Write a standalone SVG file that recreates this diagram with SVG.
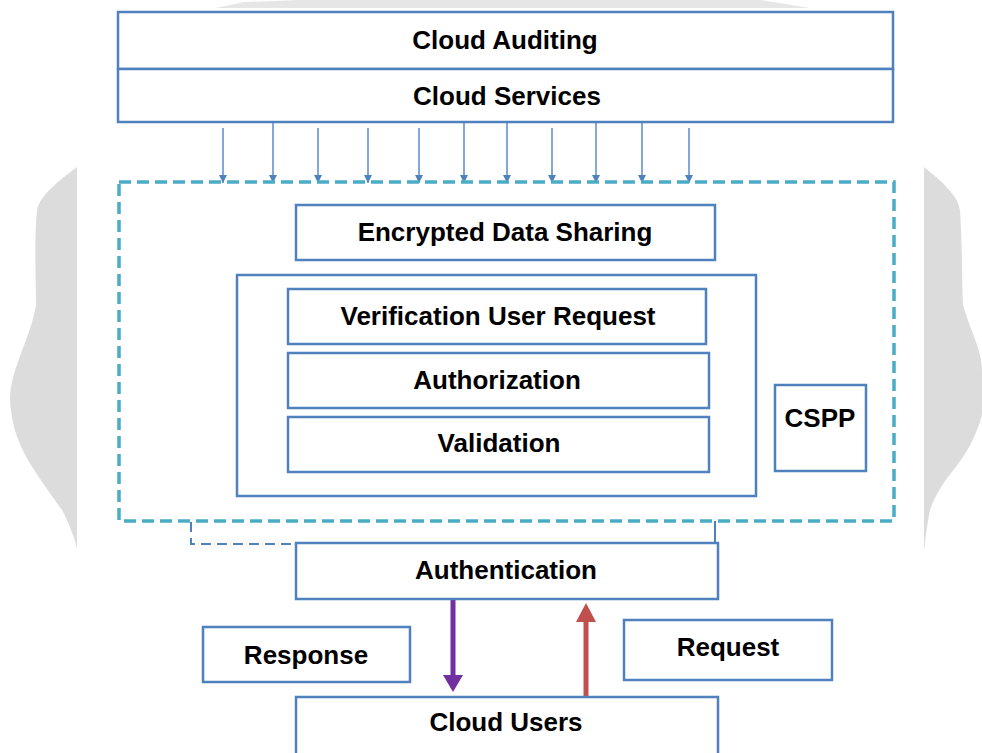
<svg xmlns="http://www.w3.org/2000/svg" width="982" height="753" viewBox="0 0 982 753">
<style>
.box{fill:#fff;stroke:#4F81BD;stroke-width:2.5}
.lbl{font-family:"Liberation Sans",Arial,sans-serif;font-weight:bold;font-size:26px;fill:#000;text-anchor:middle}
.thin{stroke:#5A8AD0;stroke-width:1.5;fill:none}
.bg{fill:#DCDCDC}
</style>
<defs>
<marker id="ah" viewBox="0 0 10 10" refX="10" refY="5" markerWidth="5.5" markerHeight="5.5" orient="auto" markerUnits="strokeWidth">
<path d="M0,0 L10,5 L0,10 Z" fill="#4F81BD"/>
</marker>
</defs>
<rect width="982" height="753" fill="#fff"/>
<g id="background">
<path class="bg" d="M77,167 C60,180 40,195 37,210 C34,240 36,280 36,305 C30,340 10,370 10,400 C12,430 20,445 28,460 C40,480 55,500 62,510 C70,525 75,540 77,548 Z"/>
<path class="bg" d="M924,167 C940,180 958,195 960,210 C962,240 962,280 963,305 C970,330 982,350 982,370 L982,415 C975,440 965,455 955,468 C945,480 935,495 930,510 C927,525 925,540 924,552 Z"/>
<path d="M215,8 L245,2 L300,0 L760,0 L810,8 Z" fill="#E6E6E6"/>
</g>
<g id="connectors">
<line class="thin" x1="223" y1="128" x2="223" y2="183" marker-end="url(#ah)"/>
<line class="thin" x1="273" y1="122" x2="273" y2="183" marker-end="url(#ah)"/>
<line class="thin" x1="318" y1="128" x2="318" y2="183" marker-end="url(#ah)"/>
<line class="thin" x1="368" y1="128" x2="368" y2="183" marker-end="url(#ah)"/>
<line class="thin" x1="419" y1="128" x2="419" y2="183" marker-end="url(#ah)"/>
<line class="thin" x1="464" y1="122" x2="464" y2="183" marker-end="url(#ah)"/>
<line class="thin" x1="507" y1="122" x2="507" y2="183" marker-end="url(#ah)"/>
<line class="thin" x1="552" y1="128" x2="552" y2="183" marker-end="url(#ah)"/>
<line class="thin" x1="596" y1="122" x2="596" y2="183" marker-end="url(#ah)"/>
<line class="thin" x1="642" y1="122" x2="642" y2="183" marker-end="url(#ah)"/>
<line class="thin" x1="689" y1="128" x2="689" y2="183" marker-end="url(#ah)"/>
<path d="M191,522 L191,544 L296,544" fill="none" stroke="#4F81BD" stroke-width="2" stroke-dasharray="10 6"/>
<line x1="715" y1="521" x2="715" y2="544" stroke="#4F81BD" stroke-width="2"/>
<line x1="453" y1="600" x2="453" y2="677" stroke="#7030A0" stroke-width="5"/>
<polygon points="443,675 463,675 453,692" fill="#7030A0"/>
<line x1="586" y1="697" x2="586" y2="620" stroke="#C0504D" stroke-width="5"/>
<polygon points="576,622 596,622 586,603" fill="#C0504D"/>
</g>
<g id="cloud-auditing">
<rect class="box" x="118" y="12" width="775" height="57"/>
<text class="lbl" x="505" y="49">Cloud Auditing</text>
</g>
<g id="cloud-services">
<rect class="box" x="118" y="69" width="775" height="53"/>
<text class="lbl" x="507" y="105">Cloud Services</text>
</g>
<g id="cspp-region">
<rect x="119" y="182" width="775" height="339" fill="none" stroke="#4BACC6" stroke-width="3.5" stroke-dasharray="12 6"/>
</g>
<g id="encrypted-data-sharing">
<rect class="box" x="296" y="205" width="419" height="55"/>
<text class="lbl" x="505" y="241">Encrypted Data Sharing</text>
</g>
<g id="inner-group">
<rect class="box" x="237" y="275" width="519" height="221"/>
</g>
<g id="verification">
<rect class="box" x="288" y="289" width="418" height="55"/>
<text class="lbl" x="498" y="325">Verification User Request</text>
</g>
<g id="authorization">
<rect class="box" x="288" y="353" width="421" height="55"/>
<text class="lbl" x="497" y="389">Authorization</text>
</g>
<g id="validation">
<rect class="box" x="288" y="417" width="421" height="55"/>
<text class="lbl" x="499" y="452">Validation</text>
</g>
<g id="cspp">
<rect class="box" x="775" y="385" width="91" height="86"/>
<text class="lbl" x="820" y="427">CSPP</text>
</g>
<g id="authentication">
<rect class="box" x="296" y="543" width="422" height="56"/>
<text class="lbl" x="506" y="579">Authentication</text>
</g>
<g id="response">
<rect class="box" x="203" y="627" width="207" height="55"/>
<text class="lbl" x="306" y="664">Response</text>
</g>
<g id="request">
<rect class="box" x="624" y="620" width="208" height="60"/>
<text class="lbl" x="728" y="656">Request</text>
</g>
<g id="cloud-users">
<rect class="box" x="296" y="697" width="422" height="60"/>
<text class="lbl" x="506" y="731">Cloud Users</text>
</g>
</svg>
